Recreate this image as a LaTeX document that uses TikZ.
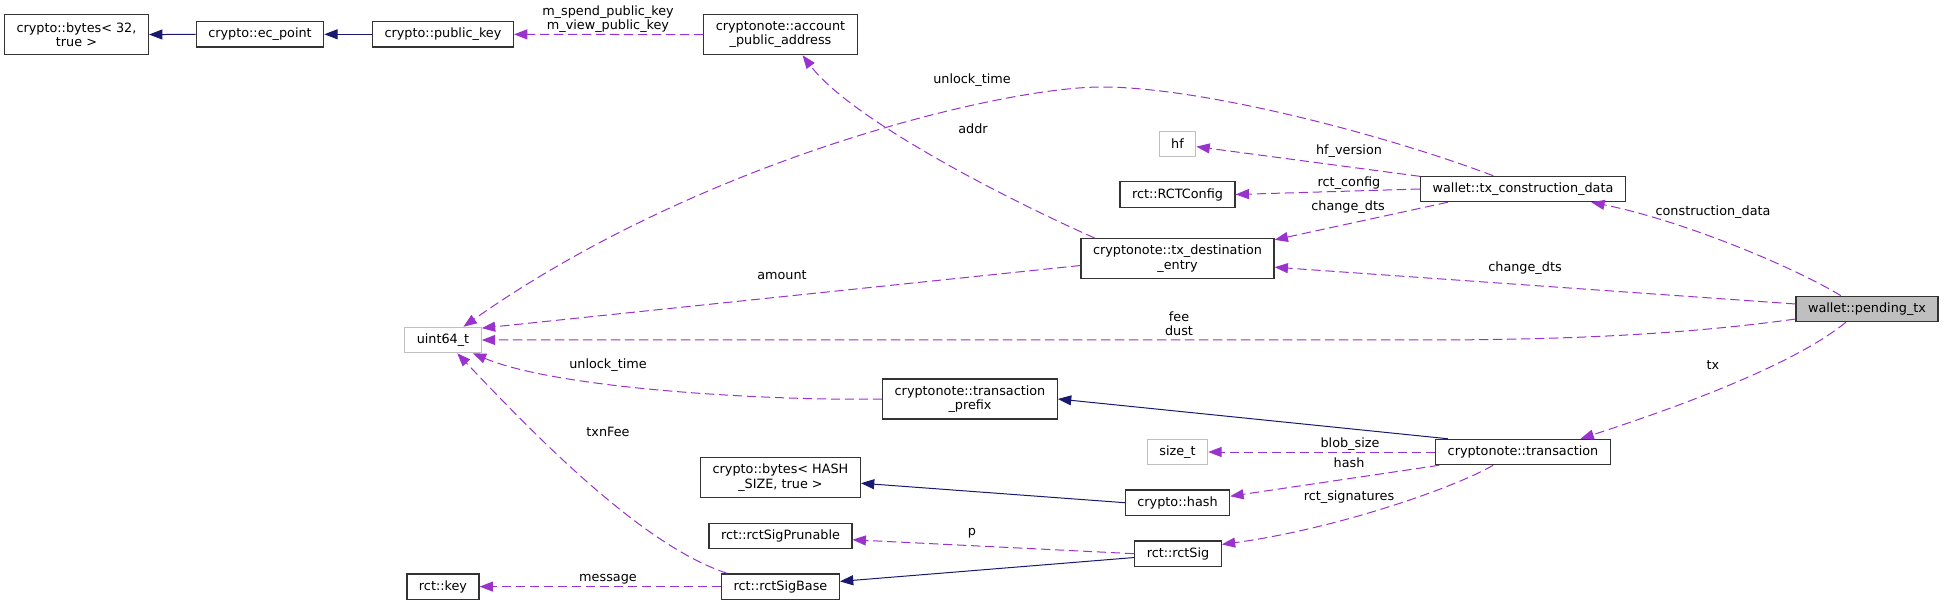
\documentclass[tikz,border=0pt]{standalone}
\usepackage{fontspec}
\setmainfont{DejaVu Sans}
\usepackage{tikz}
\usetikzlibrary{arrows.meta}

\definecolor{usecol}{HTML}{9A32CD}
\definecolor{inhcol}{HTML}{191970}
\definecolor{extcol}{HTML}{BFBFBF}

\begin{document}
\begin{tikzpicture}[
    x=0.75pt, y=-0.75pt,
    every node/.style={font=\fontsize{9.6}{10.7}\selectfont},
    cls/.style={rectangle, draw=black!80, fill=white, line width=0.9pt, inner xsep=9pt, inner ysep=0pt, minimum height=19pt, align=center},
    cls2/.style={cls, minimum height=30pt},
    ext/.style={cls, draw=extcol},
    lbl/.style={inner sep=0pt, align=center},
    dep/.style={draw=usecol, line width=0.75pt, dash pattern=on 7pt off 3.5pt, -{Triangle[length=10pt, width=7.5pt]}},
    inh/.style={draw=inhcol, line width=0.75pt, -{Triangle[length=10pt, width=7.5pt]}}
]
    \useasboundingbox (0,0) rectangle (1944,605);

    % top row
    \node[cls2] (bytes32) at (76.5,34.7) {crypto::bytes< 32,\\true >};
    \node[cls] (ecpt) at (260,34.3) {crypto::ec\_point};
    \node[cls] (pubkey) at (443,34.3) {crypto::public\_key};
    \node[cls2] (account) at (780.5,34.7) {cryptonote::account\\\_public\_address};

    % left column
    \node[ext] (uint64) at (443,340) {uint64\_t};
    \node[cls] (rctkey) at (443,586.6) {rct::key};

    % middle columns
    \node[cls2] (prefix) at (970,399) {cryptonote::transaction\\\_prefix};
    \node[cls2] (hashbytes) at (780.5,477.6) {crypto::bytes< HASH\\\_SIZE, true >};
    \node[cls] (prunable) at (780.5,536) {rct::rctSigPrunable};
    \node[cls] (sigbase) at (780.5,586.6) {rct::rctSigBase};
    \node[ext] (hf) at (1177.5,144) {hf};
    \node[cls] (rctcfg) at (1177.5,194.5) {rct::RCTConfig};
    \node[cls2] (dest) at (1177.5,258.7) {cryptonote::tx\_destination\\\_entry};
    \node[ext] (sizet) at (1177.5,452) {size\_t};
    \node[cls] (chash) at (1177.5,502.7) {crypto::hash};
    \node[cls] (rctsig) at (1178,553.7) {rct::rctSig};

    % right columns
    \node[cls] (txcon) at (1523,189) {wallet::tx\_construction\_data};
    \node[cls] (txn) at (1523,452) {cryptonote::transaction};
    \node[cls, fill=extcol] (pending) at (1867,309) {wallet::pending\_tx};

    % inheritance
    \draw[inh] (ecpt) -- (bytes32);
    \draw[inh] (pubkey) -- (ecpt);
    \draw[inh] (txn.170) -- (prefix.east);
    \draw[inh] (chash.west) -- (hashbytes.-4);
    \draw[inh] (rctsig.185) -- (sigbase.5);

    % members
    \draw[dep] (account) -- (pubkey) node[lbl] at (608,19) {m\_spend\_public\_key\\m\_view\_public\_key};
    \draw[dep] (dest.166) .. controls (1000,196) and (850,118) .. (account.-43) node[lbl] at (973,129) {addr};
    \draw[dep] (dest.184) -- (uint64.17) node[lbl] at (782,275) {amount};
    \draw[dep] (txcon.156) .. controls (1380,133) and (1200,87) .. (1102,87) .. controls (1000,87) and (700,160) .. (uint64.33) node[lbl] at (972,80) {unlock\_time};
    \draw[dep] (txcon.173) -- (hf.-8) node[lbl] at (1349,151) {hf\_version};
    \draw[dep] (txcon.west) -- (rctcfg.east) node[lbl] at (1349,183) {rct\_config};
    \draw[dep] (txcon.190) -- (dest.11) node[lbl] at (1348,207) {change\_dts};
    \draw[dep] (pending.153) .. controls (1790,265) and (1680,220) .. (txcon.-11) node[lbl] at (1713,212) {construction\_data};
    \draw[dep] (pending.176) -- (dest.-5) node[lbl] at (1525,268) {change\_dts};
    \draw[dep] (pending.188) .. controls (1680,335) and (1560,340) .. (1420,340) -- (uint64.east) node[lbl] at (1179,324) {fee\\dust};
    \draw[dep] (pending.212) .. controls (1800,360) and (1700,400) .. (txn.13) node[lbl] at (1713,365) {tx};
    \draw[dep] (prefix.west) .. controls (780,401) and (560,390) .. (uint64.-24) node[lbl] at (608,365) {unlock\_time};
    \draw[dep] (txn.west) -- (sizet.east) node[lbl] at (1350,444) {blob\_size};
    \draw[dep] (txn.189) -- (chash.7) node[lbl] at (1349,463) {hash};
    \draw[dep] (txn.204) .. controls (1450,490) and (1330,530) .. (rctsig.12) node[lbl] at (1349,497) {rct\_signatures};
    \draw[dep] (rctsig.west) -- (prunable.-3) node[lbl] at (972,533) {p};
    \draw[dep] (sigbase.166) .. controls (640,545) and (530,430) .. (uint64.-43) node[lbl] at (608,432) {txnFee};
    \draw[dep] (sigbase.west) -- (rctkey.east) node[lbl] at (608,579) {message};

\end{tikzpicture}
\end{document}
